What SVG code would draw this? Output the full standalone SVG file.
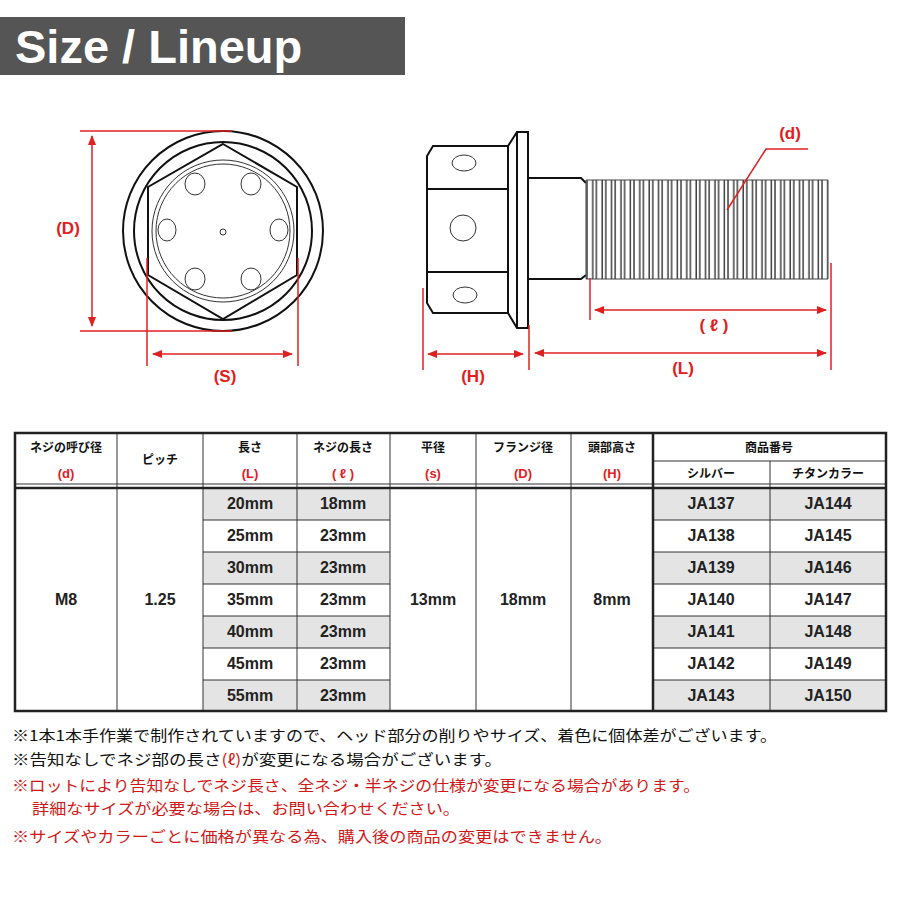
<svg xmlns="http://www.w3.org/2000/svg" width="900" height="900" viewBox="0 0 900 900">
<defs>
<marker id="ar" viewBox="0 0 10 10" refX="9" refY="5" markerWidth="7" markerHeight="7" orient="auto-start-reverse"><path d="M0,1 L10,5 L0,9 z" fill="#e02020"/></marker>
<pattern id="thr" x="586" y="0" width="9.4" height="10" patternUnits="userSpaceOnUse"><rect width="9.4" height="10" fill="#fff"/><line x1="1" y1="0" x2="1" y2="10" stroke="#333" stroke-width="1.4"/><line x1="6.8" y1="0" x2="6.8" y2="10" stroke="#333" stroke-width="1.4"/></pattern>
</defs>
<style>
.k{fill:none;stroke:#111;stroke-width:2}
.t{fill:none;stroke:#333;stroke-width:1}
.r{stroke:#e02020;stroke-width:1.5;fill:none}
.ra{stroke:#e02020;stroke-width:1.5;fill:none;marker-start:url(#ar);marker-end:url(#ar)}
.rl{fill:#e02020;font-family:"Liberation Sans",Arial,sans-serif;font-weight:bold;font-size:17px;text-anchor:middle}
.c{font-family:"Liberation Sans Narrow","Liberation Sans","Noto Sans CJK JP",sans-serif;font-size:16px;font-weight:bold;text-anchor:middle;fill:#222}
.h{font-family:"Noto Sans CJK JP",sans-serif;font-size:12px;font-weight:bold;text-anchor:middle;fill:#111}
.hr{font-family:"Liberation Sans","Noto Sans CJK JP",sans-serif;font-size:13px;font-weight:bold;text-anchor:middle;fill:#e02020}
.n{font-family:"Noto Sans CJK JP",sans-serif;font-size:15px;fill:#111}
.nr{font-family:"Noto Sans CJK JP",sans-serif;font-size:15px;fill:#d01818}
.g{fill:#e4e4e4}
</style>
<rect width="900" height="900" fill="#fff"/>
<g id="title"><rect x="0" y="17" width="405" height="58" fill="#555"/><text x="15" y="63" font-family="Liberation Sans,Arial,sans-serif" font-weight="bold" font-size="47" fill="#fff">Size / Lineup</text></g>
<g id="front-view">
<circle cx="223" cy="231" r="100" class="k"/>
<circle cx="223" cy="231" r="89" class="k"/>
<polygon points="223,144 297,187 297,275 223,319 148,275 148,187" class="k" stroke-width="2.5"/>
<circle cx="223" cy="231" r="71" class="t"/>
<circle cx="223" cy="231" r="67" class="t"/>
<g class="t"><ellipse cx="195" cy="184" rx="10" ry="11"/><ellipse cx="251" cy="184" rx="10" ry="11"/><ellipse cx="167" cy="230" rx="9" ry="11"/><ellipse cx="279" cy="230" rx="9" ry="11"/><ellipse cx="195" cy="279" rx="10" ry="11"/><ellipse cx="251" cy="279" rx="10" ry="11"/><circle cx="223" cy="232" r="3"/></g>
</g>
<g id="side-view">
<path d="M433,146 L508,146 L508,313 L433,313 L427,303 L427,156 Z" class="k"/>
<line x1="427" y1="189" x2="508" y2="189" class="k"/>
<line x1="427" y1="272" x2="508" y2="272" class="k"/>
<path d="M508,146 L517,132 L528,132 L528,328 L517,328 L508,313" class="k"/>
<line x1="517" y1="132" x2="517" y2="328" class="k"/>
<g class="t" stroke-width="1.5"><ellipse cx="464" cy="163" rx="12" ry="8"/><circle cx="463" cy="228" r="13"/><ellipse cx="465" cy="295" rx="12" ry="8"/></g>
<path d="M528,178 L581,178 L586,183 M528,279 L581,279 L586,275" class="k" stroke-width="1.5"/>
<rect x="586" y="180" width="242" height="99" fill="url(#thr)"/>
<path d="M586,180 L828,180 L828,279 L586,279 Z" fill="none" stroke="#444" stroke-width="1"/>
</g>
<g id="connectors">
<line x1="80" y1="131" x2="232" y2="131" class="r"/>
<line x1="80" y1="331" x2="232" y2="331" class="r"/>
<line x1="92" y1="136" x2="92" y2="326" class="ra"/>
<line x1="147" y1="258" x2="147" y2="366" class="r"/>
<line x1="298" y1="258" x2="298" y2="366" class="r"/>
<line x1="153" y1="354" x2="292" y2="354" class="ra"/>
<line x1="423" y1="288" x2="423" y2="370" class="r"/>
<line x1="529" y1="325" x2="529" y2="370" class="r"/>
<line x1="428" y1="354" x2="523" y2="354" class="ra"/>
<line x1="535" y1="353" x2="826" y2="353" class="ra"/>
<line x1="831" y1="263" x2="831" y2="370" class="r"/>
<line x1="590" y1="278" x2="590" y2="320" class="r"/>
<line x1="595" y1="310" x2="826" y2="310" class="ra"/>
<polyline points="808,149 766,149 727,210" class="r"/>
</g>
<g id="dim-labels">
<text x="68" y="234" class="rl">(D)</text>
<text x="225" y="382" class="rl">(S)</text>
<text x="473" y="382" class="rl">(H)</text>
<text x="683" y="374" class="rl">(L)</text>
<text x="714" y="331" class="rl">( ℓ )</text>
<text x="790" y="139" class="rl">(d)</text>
</g>
<g id="table">
<g class="g">
<rect x="203" y="488" width="187" height="32"/><rect x="203" y="552" width="187" height="32"/><rect x="203" y="616" width="187" height="32"/><rect x="203" y="680" width="187" height="31"/>
<rect x="653" y="488" width="233" height="32"/><rect x="653" y="552" width="233" height="32"/><rect x="653" y="616" width="233" height="32"/><rect x="653" y="680" width="233" height="31"/>
</g>
<g stroke="#333" stroke-width="1">
<line x1="117" y1="433" x2="117" y2="711"/><line x1="203" y1="433" x2="203" y2="711"/><line x1="297" y1="433" x2="297" y2="711"/><line x1="390" y1="433" x2="390" y2="711"/><line x1="476" y1="433" x2="476" y2="711"/><line x1="571" y1="433" x2="571" y2="711"/><line x1="770" y1="461" x2="770" y2="711"/>
<line x1="653" y1="461" x2="886" y2="461"/>
<line x1="15" y1="484" x2="886" y2="484"/>
<line x1="203" y1="520" x2="390" y2="520"/><line x1="203" y1="552" x2="390" y2="552"/><line x1="203" y1="584" x2="390" y2="584"/><line x1="203" y1="616" x2="390" y2="616"/><line x1="203" y1="648" x2="390" y2="648"/><line x1="203" y1="680" x2="390" y2="680"/>
<line x1="653" y1="520" x2="886" y2="520"/><line x1="653" y1="552" x2="886" y2="552"/><line x1="653" y1="584" x2="886" y2="584"/><line x1="653" y1="616" x2="886" y2="616"/><line x1="653" y1="648" x2="886" y2="648"/><line x1="653" y1="680" x2="886" y2="680"/>
</g>
<g fill="none" stroke="#222" stroke-width="2.5">
<rect x="15" y="433" width="871" height="278"/>
<line x1="15" y1="488" x2="886" y2="488"/>
<line x1="653" y1="433" x2="653" y2="711"/>
</g>
<text x="66" y="452" class="h">ネジの呼び径</text><text x="66" y="478" class="hr">(d)</text>
<text x="160" y="464" class="h">ピッチ</text>
<text x="250" y="452" class="h">長さ</text><text x="250" y="478" class="hr">(L)</text>
<text x="343" y="452" class="h">ネジの長さ</text><text x="343" y="478" class="hr">( ℓ )</text>
<text x="433" y="452" class="h">平径</text><text x="433" y="478" class="hr">(s)</text>
<text x="523" y="452" class="h">フランジ径</text><text x="523" y="478" class="hr">(D)</text>
<text x="612" y="452" class="h">頭部高さ</text><text x="612" y="478" class="hr">(H)</text>
<text x="769" y="452" class="h">商品番号</text>
<text x="711" y="478" class="h">シルバー</text><text x="828" y="478" class="h">チタンカラー</text>
<text x="66" y="605" class="c">M8</text><text x="160" y="605" class="c">1.25</text>
<text x="433" y="605" class="c">13mm</text><text x="523" y="605" class="c">18mm</text><text x="612" y="605" class="c">8mm</text>
<g class="c">
<text x="250" y="509">20mm</text><text x="343" y="509">18mm</text><text x="711" y="509">JA137</text><text x="828" y="509">JA144</text>
<text x="250" y="541">25mm</text><text x="343" y="541">23mm</text><text x="711" y="541">JA138</text><text x="828" y="541">JA145</text>
<text x="250" y="573">30mm</text><text x="343" y="573">23mm</text><text x="711" y="573">JA139</text><text x="828" y="573">JA146</text>
<text x="250" y="605">35mm</text><text x="343" y="605">23mm</text><text x="711" y="605">JA140</text><text x="828" y="605">JA147</text>
<text x="250" y="637">40mm</text><text x="343" y="637">23mm</text><text x="711" y="637">JA141</text><text x="828" y="637">JA148</text>
<text x="250" y="669">45mm</text><text x="343" y="669">23mm</text><text x="711" y="669">JA142</text><text x="828" y="669">JA149</text>
<text x="250" y="701">55mm</text><text x="343" y="701">23mm</text><text x="711" y="701">JA143</text><text x="828" y="701">JA150</text>
</g>
</g>
<g id="notes">
<text x="12" y="741" class="n" textLength="765" lengthAdjust="spacingAndGlyphs">※1本1本手作業で制作されていますので、ヘッド部分の削りやサイズ、着色に個体差がございます。</text>
<text x="12" y="765" class="n" textLength="490" lengthAdjust="spacingAndGlyphs">※告知なしでネジ部の長さ<tspan fill="#d01818">(ℓ)</tspan>が変更になる場合がございます。</text>
<text x="12" y="791" class="nr" textLength="688" lengthAdjust="spacingAndGlyphs">※ロットにより告知なしでネジ長さ、全ネジ・半ネジの仕様が変更になる場合があります。</text>
<text x="32" y="814" class="nr" textLength="428" lengthAdjust="spacingAndGlyphs">詳細なサイズが必要な場合は、お問い合わせください。</text>
<text x="12" y="842" class="nr" textLength="600" lengthAdjust="spacingAndGlyphs">※サイズやカラーごとに価格が異なる為、購入後の商品の変更はできません。</text>
</g>
</svg>
